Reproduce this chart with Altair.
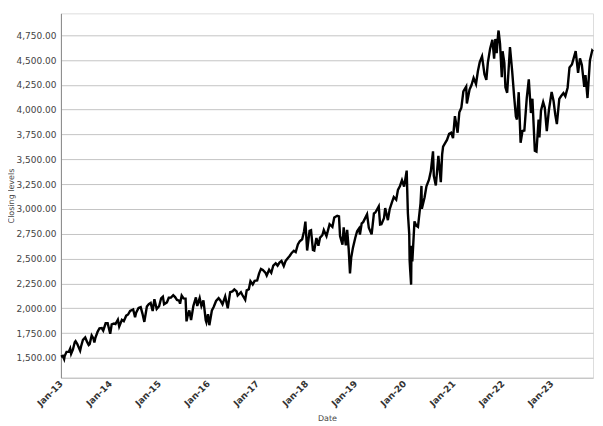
import altair as alt
import pandas as pd

dates_2013 = ["2013-02-01","2013-02-15","2013-02-25","2013-03-01","2013-03-15","2013-04-01","2013-04-11","2013-04-18","2013-05-01","2013-05-15","2013-05-21","2013-06-03","2013-06-24","2013-07-01","2013-07-15","2013-08-01","2013-08-15","2013-08-27","2013-09-03","2013-09-18","2013-10-01","2013-10-08","2013-10-15","2013-11-01","2013-11-15","2013-12-02","2013-12-13","2013-12-31"]
close_2013 = [1513,1520,1488,1518,1561,1562,1593,1541,1582,1658,1669,1640,1573,1615,1682,1706,1661,1630,1639,1725,1695,1656,1698,1762,1798,1800,1775,1848]

dates_2014 = ["2014-01-15","2014-02-03","2014-02-14","2014-03-03","2014-03-14","2014-04-01","2014-04-11","2014-05-01","2014-05-15","2014-06-02","2014-06-16","2014-07-01","2014-07-24","2014-08-07","2014-08-15","2014-09-02","2014-09-18","2014-10-01","2014-10-15","2014-11-03","2014-11-17","2014-12-01","2014-12-16","2014-12-29"]
close_2014 = [1848,1742,1838,1845,1841,1885,1815,1883,1870,1925,1937,1973,1988,1910,1955,2002,2011,1946,1862,2018,2041,2053,1972,2090]

dates_2015 = ["2015-01-15","2015-02-02","2015-02-17","2015-03-02","2015-03-11","2015-04-01","2015-04-15","2015-05-01","2015-05-18","2015-06-01","2015-06-15","2015-07-01","2015-07-08","2015-07-20","2015-08-03","2015-08-18","2015-08-25","2015-09-01","2015-09-15","2015-09-28","2015-10-15","2015-11-03","2015-11-13","2015-12-01","2015-12-14","2015-12-29"]
close_2015 = [1993,2020,2100,2117,2040,2059,2106,2108,2132,2112,2084,2077,2046,2128,2099,2097,1868,1914,1978,1882,2023,2109,2023,2103,2022,2078]

dates_2016 = ["2016-01-15","2016-01-20","2016-02-01","2016-02-11","2016-03-01","2016-03-15","2016-04-01","2016-04-20","2016-05-02","2016-05-19","2016-06-08","2016-06-27","2016-07-15","2016-08-01","2016-08-15","2016-09-01","2016-09-09","2016-10-03","2016-10-14","2016-11-04","2016-11-15","2016-12-01","2016-12-13","2016-12-30"]
close_2016 = [1880,1859,1940,1829,1978,2015,2073,2102,2081,2040,2119,2000,2162,2170,2190,2170,2128,2161,2133,2085,2180,2191,2272,2239]

dates_2017 = ["2017-01-13","2017-02-01","2017-02-15","2017-03-01","2017-03-15","2017-04-03","2017-04-13","2017-05-01","2017-05-17","2017-06-01","2017-06-19","2017-07-03","2017-07-17","2017-08-01","2017-08-18","2017-09-01","2017-09-15","2017-10-02","2017-10-16","2017-11-01","2017-11-15","2017-12-01","2017-12-15"]
close_2017 = [2275,2279,2349,2396,2385,2359,2329,2388,2357,2430,2453,2429,2460,2476,2425,2477,2500,2529,2557,2579,2565,2642,2675]

dates_2018 = ["2018-01-02","2018-01-16","2018-01-26","2018-02-08","2018-02-26","2018-03-09","2018-03-23","2018-04-02","2018-04-18","2018-05-03","2018-05-15","2018-06-01","2018-06-12","2018-07-02","2018-07-25","2018-08-15","2018-08-29","2018-09-20","2018-10-03","2018-10-11","2018-10-29","2018-11-07","2018-11-23","2018-12-03","2018-12-14","2018-12-24"]
close_2018 = [2695,2776,2873,2581,2780,2786,2588,2582,2708,2630,2711,2735,2787,2726,2846,2819,2914,2931,2925,2728,2641,2814,2633,2790,2600,2351]

dates_2019 = ["2019-01-02","2019-01-15","2019-02-01","2019-02-15","2019-03-01","2019-03-08","2019-03-21","2019-04-01","2019-04-15","2019-04-30","2019-05-13","2019-06-03","2019-06-20","2019-07-01","2019-07-26","2019-08-05","2019-08-15","2019-09-03","2019-09-12","2019-10-02","2019-10-15","2019-11-01","2019-11-15","2019-12-03","2019-12-16","2019-12-31"]
close_2019 = [2510,2610,2707,2775,2803,2743,2854,2867,2905,2946,2812,2744,2954,2964,3025,2844,2847,2906,3009,2887,2995,3067,3120,3093,3191,3231]

dates_2020 = ["2020-01-15","2020-01-31","2020-02-19","2020-02-28","2020-03-09","2020-03-12","2020-03-16","2020-03-23","2020-03-26","2020-04-01","2020-04-17","2020-05-01","2020-05-13","2020-06-01","2020-06-08","2020-06-11","2020-07-01","2020-07-15","2020-08-03","2020-08-17","2020-09-02","2020-09-08","2020-09-23","2020-10-12","2020-10-30","2020-11-09","2020-11-16","2020-12-01","2020-12-15","2020-12-31"]
close_2020 = [3289,3225,3386,2954,2747,2481,2386,2237,2630,2471,2875,2831,2820,3055,3232,3002,3116,3227,3295,3382,3580,3332,3237,3534,3270,3550,3627,3662,3695,3756]

dates_2021 = ["2021-01-15","2021-01-29","2021-02-12","2021-03-04","2021-03-17","2021-04-01","2021-04-16","2021-05-07","2021-05-12","2021-06-01","2021-06-15","2021-07-01","2021-07-19","2021-08-02","2021-08-16","2021-09-02","2021-09-20","2021-10-04","2021-10-15","2021-11-01","2021-11-18","2021-12-01","2021-12-10","2021-12-20","2021-12-31"]
close_2021 = [3768,3714,3934,3768,3974,4020,4185,4232,4063,4202,4246,4320,4258,4387,4479,4537,4358,4300,4471,4613,4704,4513,4712,4568,4766]

dates_2022 = ["2022-01-03","2022-01-14","2022-01-27","2022-02-02","2022-02-15","2022-02-23","2022-03-08","2022-03-29","2022-04-14","2022-04-29","2022-05-12","2022-05-20","2022-06-02","2022-06-16","2022-06-30","2022-07-14","2022-08-01","2022-08-16","2022-09-01","2022-09-12","2022-09-30","2022-10-12","2022-10-28","2022-11-03","2022-11-15","2022-12-01","2022-12-13","2022-12-28"]
close_2022 = [4797,4663,4326,4589,4471,4225,4170,4631,4392,4132,3930,3901,4176,3667,3785,3790,4118,4305,3966,4110,3586,3577,3901,3720,3991,4076,4019,3783]

dates_2023 = ["2023-01-13","2023-02-02","2023-02-16","2023-03-01","2023-03-13","2023-03-31","2023-04-14","2023-05-01","2023-05-15","2023-06-01","2023-06-15","2023-07-03","2023-07-31","2023-08-18","2023-09-01","2023-09-15","2023-10-03","2023-10-12","2023-10-27","2023-11-14","2023-12-01","2023-12-07"]
close_2023 = [3999,4179,4090,3951,3855,4109,4137,4167,4136,4221,4426,4455,4589,4370,4516,4450,4229,4349,4117,4496,4595,4585]

all_dates = (dates_2013 + dates_2014 + dates_2015 + dates_2016 + dates_2017 + dates_2018 +
             dates_2019 + dates_2020 + dates_2021 + dates_2022 + dates_2023)
all_close = (close_2013 + close_2014 + close_2015 + close_2016 + close_2017 + close_2018 +
             close_2019 + close_2020 + close_2021 + close_2022 + close_2023)

df = pd.DataFrame({"Date": all_dates, "Close": all_close})

tick_years = list(range(2013, 2024))
y_ticks = [1500, 1750, 2000, 2250, 2500, 2750, 3000, 3250, 3500, 3750, 4000, 4250, 4500, 4750]

FONT = "DejaVu Sans"

chart = alt.Chart(df).mark_line(color="black", strokeWidth=2.4).encode(
    x=alt.X(
        "Date:T",
        title="Date",
        scale=alt.Scale(domain=[alt.DateTime(year=2013, month=2, date=1),
                                alt.DateTime(year=2023, month=12, date=7)]),
        axis=alt.Axis(
            values=[alt.DateTime(year=y, month=2, date=1) for y in tick_years],
            labelExpr="'Jan-' + timeFormat(datum.value, '%y')",
            labelAngle=-45,
            labelAlign="right",
            labelBaseline="middle",
            labelFont=FONT, labelFontSize=9, labelFontWeight="bold", labelColor="#333333",
            labelPadding=4,
            ticks=False, grid=False,
            domainColor="#bbbbbb",
            titleFont=FONT, titleFontSize=8, titleFontWeight="normal", titleColor="#444444",
            titlePadding=7,
        ),
    ),
    y=alt.Y(
        "Close:Q",
        title="Closing levels",
        scale=alt.Scale(domain=[1300, 4970], nice=False, zero=False),
        axis=alt.Axis(
            values=y_ticks,
            format=",.2f",
            labelFont=FONT, labelFontSize=9, labelColor="#444444",
            labelPadding=5,
            ticks=False,
            grid=True, gridColor="#c4c4c4", gridWidth=1,
            domainColor="#888888",
            titleFont=FONT, titleFontSize=8, titleFontWeight="normal", titleColor="#444444",
            titleX=-49, titleBaseline="middle",
        ),
    ),
).properties(
    width=533,
    height=365,
    autosize=alt.AutoSizeParams(type="none"),
    padding={"left": 53, "top": 5, "right": 2, "bottom": 48},
).configure_view(
    stroke="#bbbbbb", strokeWidth=1
).configure(background="white")

chart.save("out.html", embed_options={"renderer": "svg", "actions": False})
